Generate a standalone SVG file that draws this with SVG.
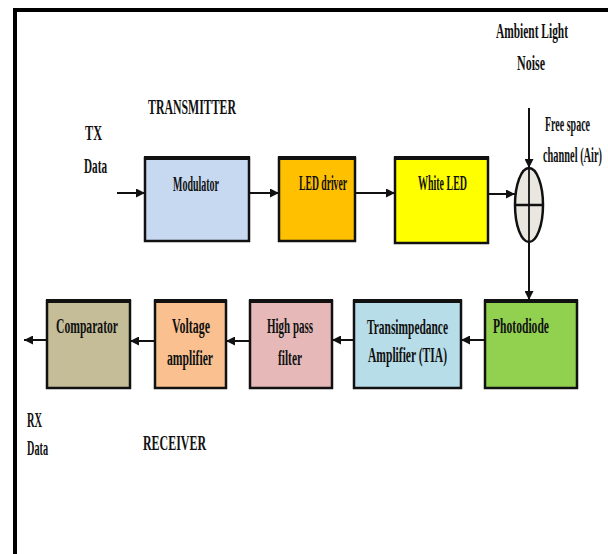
<svg xmlns="http://www.w3.org/2000/svg" width="608" height="554" viewBox="0 0 608 554">
<defs>
<style>
.t{font-family:"Liberation Serif","Times New Roman",serif;font-weight:bold;font-size:20px;fill:#111;}
.box{stroke:#111;stroke-width:2.5;}
.top{stroke:#111;stroke-width:4;}
.c{stroke:#111;stroke-width:2;fill:none;}
</style>
<marker id="ah" viewBox="0 0 10 10" refX="10" refY="5" markerUnits="userSpaceOnUse" markerWidth="9" markerHeight="9" orient="auto">
<path d="M0,0 L10,5 L0,10 z" fill="#111"/>
</marker>
</defs>
<rect width="608" height="554" fill="#fff"/>
<g id="frame">
<rect x="13" y="8" width="4" height="546" fill="#000"/>
<rect x="13" y="8" width="595" height="4" fill="#000"/>
</g>
<g id="labels">
<text class="t" x="496" y="38" textLength="72" lengthAdjust="spacingAndGlyphs">Ambient Light</text>
<text class="t" x="517" y="70" textLength="28" lengthAdjust="spacingAndGlyphs">Noise</text>
<text class="t" x="148" y="114" textLength="88" lengthAdjust="spacingAndGlyphs">TRANSMITTER</text>
<text class="t" x="85" y="140" textLength="17" lengthAdjust="spacingAndGlyphs">TX</text>
<text class="t" x="84" y="173" textLength="23" lengthAdjust="spacingAndGlyphs">Data</text>
<text class="t" x="545" y="131" textLength="45" lengthAdjust="spacingAndGlyphs">Free space</text>
<text class="t" x="543" y="162" textLength="59" lengthAdjust="spacingAndGlyphs">channel (Air)</text>
<text class="t" x="27" y="427" textLength="15" lengthAdjust="spacingAndGlyphs">RX</text>
<text class="t" x="27" y="455" textLength="21" lengthAdjust="spacingAndGlyphs">Data</text>
<text class="t" x="143" y="450" textLength="63" lengthAdjust="spacingAndGlyphs">RECEIVER</text>
</g>
<g id="connectors">
<line class="c" x1="117" y1="193" x2="145" y2="193" marker-end="url(#ah)"/>
<line class="c" x1="249" y1="193" x2="279" y2="193" marker-end="url(#ah)"/>
<line class="c" x1="355" y1="193" x2="395" y2="193" marker-end="url(#ah)"/>
<line class="c" x1="488" y1="194" x2="515" y2="194" marker-end="url(#ah)"/>
<line class="c" x1="529" y1="108" x2="529" y2="168" marker-end="url(#ah)" stroke-width="1.6"/>
<line class="c" x1="529" y1="242" x2="529" y2="300" marker-end="url(#ah)" stroke-width="1.6"/>
<line class="c" x1="485" y1="340" x2="461" y2="340" marker-end="url(#ah)"/>
<line class="c" x1="354" y1="340" x2="332" y2="340" marker-end="url(#ah)"/>
<line class="c" x1="250" y1="341" x2="226" y2="341" marker-end="url(#ah)"/>
<line class="c" x1="155" y1="341" x2="130" y2="341" marker-end="url(#ah)"/>
<line class="c" x1="47" y1="340" x2="24" y2="340" marker-end="url(#ah)"/>
</g>
<g id="mixer">
<ellipse cx="529" cy="205" rx="14" ry="37" fill="#e9e7e0" stroke="#111" stroke-width="2.5"/>
<line x1="529" y1="168" x2="529" y2="242" stroke="#111" stroke-width="1.8"/>
<line x1="515" y1="205" x2="543" y2="205" stroke="#111" stroke-width="2.5"/>
</g>
<g id="modulator">
<rect class="box" x="145" y="158" width="104" height="83" fill="#c6d9f1"/>
<line class="top" x1="144" y1="158" x2="250" y2="158"/>
<text class="t" x="173" y="191" textLength="46" lengthAdjust="spacingAndGlyphs">Modulator</text>
</g>
<g id="led-driver">
<rect class="box" x="279" y="158" width="76" height="83" fill="#ffc000"/>
<line class="top" x1="278" y1="158" x2="356" y2="158"/>
<text class="t" x="299" y="190" textLength="48" lengthAdjust="spacingAndGlyphs">LED driver</text>
</g>
<g id="white-led">
<rect class="box" x="395" y="158" width="93" height="85" fill="#ffff00"/>
<line class="top" x1="394" y1="158" x2="489" y2="158"/>
<text class="t" x="418" y="190" textLength="49" lengthAdjust="spacingAndGlyphs">White LED</text>
</g>
<g id="photodiode">
<rect class="box" x="485" y="301" width="92" height="87" fill="#92d050"/>
<line class="top" x1="484" y1="301" x2="578" y2="301"/>
<text class="t" x="493" y="333" textLength="56" lengthAdjust="spacingAndGlyphs">Photodiode</text>
</g>
<g id="tia">
<rect class="box" x="354" y="301" width="107" height="87" fill="#b7dde8"/>
<line class="top" x1="353" y1="301" x2="462" y2="301"/>
<text class="t" x="367" y="334" textLength="81" lengthAdjust="spacingAndGlyphs">Transimpedance</text>
<text class="t" x="368" y="362" textLength="79" lengthAdjust="spacingAndGlyphs">Amplifier (TIA)</text>
</g>
<g id="high-pass-filter">
<rect class="box" x="250" y="301" width="82" height="87" fill="#e6b9b8"/>
<line class="top" x1="249" y1="301" x2="333" y2="301"/>
<text class="t" x="267" y="333" textLength="46" lengthAdjust="spacingAndGlyphs">High pass</text>
<text class="t" x="278" y="365" textLength="24" lengthAdjust="spacingAndGlyphs">filter</text>
</g>
<g id="voltage-amplifier">
<rect class="box" x="155" y="301" width="71" height="87" fill="#fac090"/>
<line class="top" x1="154" y1="301" x2="227" y2="301"/>
<text class="t" x="172" y="333" textLength="38" lengthAdjust="spacingAndGlyphs">Voltage</text>
<text class="t" x="167" y="365" textLength="46" lengthAdjust="spacingAndGlyphs">amplifier</text>
</g>
<g id="comparator">
<rect class="box" x="47" y="301" width="83" height="87" fill="#c4bd97"/>
<line class="top" x1="46" y1="301" x2="131" y2="301"/>
<text class="t" x="56" y="333" textLength="62" lengthAdjust="spacingAndGlyphs">Comparator</text>
</g>
</svg>
